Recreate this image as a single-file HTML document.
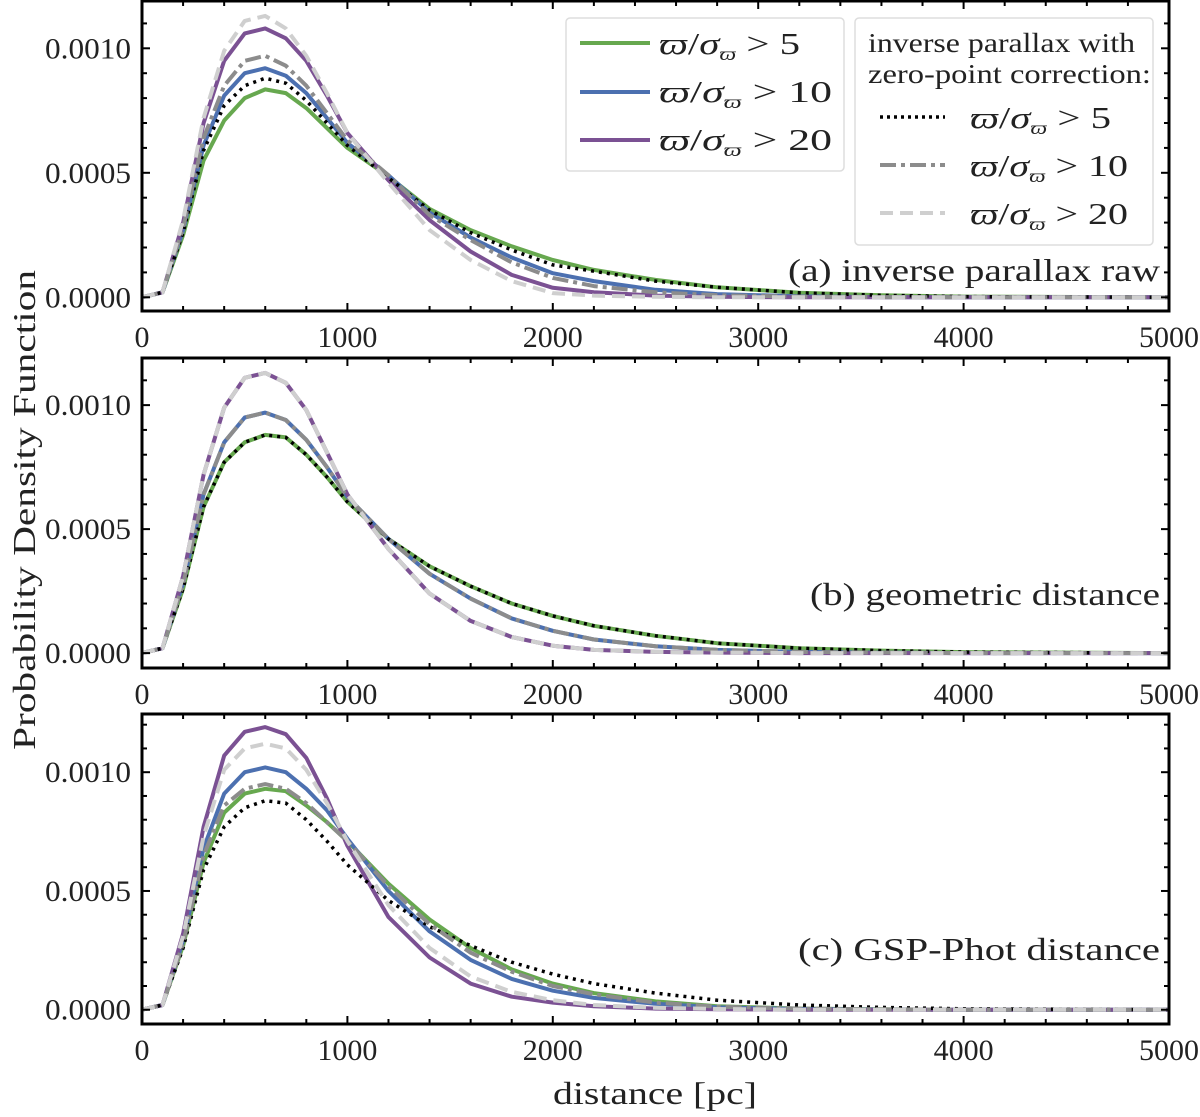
<!DOCTYPE html>
<html><head><meta charset="utf-8"><style>
body{margin:0;background:#fff}
svg{display:block}
text{font-family:"Liberation Serif",serif;fill:#222}
</style></head><body>
<svg id="chart" width="1200" height="1117" viewBox="0 0 1200 1117"></svg>
<script>
const distances=[0,100,200,300,400,500,600,700,800,900,1000,1200,1400,1600,1800,2000,2200,2500,2800,3200,3600,4000,5000];
// panel a (units 1e-4)
const greenA=[0,0.2,2.5,5.5,7.1,8.0,8.35,8.2,7.6,6.8,6.0,4.85,3.55,2.7,2.05,1.5,1.1,0.7,0.4,0.18,0.08,0.03,0];
const blueA=[0,0.2,2.7,6.1,8.1,9.0,9.2,8.9,8.2,7.2,6.2,4.9,3.4,2.4,1.6,0.97,0.65,0.3,0.13,0.04,0.01,0,0];
const purpleA=[0,0.2,3.0,7.0,9.5,10.6,10.8,10.4,9.5,8.1,6.6,4.7,3.1,1.84,0.9,0.38,0.2,0.07,0.02,0,0,0,0];
const blackA=[0,0.2,2.6,5.9,7.7,8.5,8.8,8.6,7.9,7.0,6.1,4.8,3.5,2.6,1.9,1.3,1.05,0.65,0.4,0.18,0.08,0.03,0];
const grayA=[0,0.2,2.8,6.4,8.5,9.5,9.7,9.3,8.5,7.4,6.3,4.9,3.3,2.3,1.4,0.78,0.45,0.2,0.08,0.03,0.01,0,0];
const lgrayA=[0,0.2,3.1,7.2,9.9,11.1,11.3,10.8,9.7,8.2,6.6,4.6,2.7,1.5,0.65,0.17,0.07,0.02,0,0,0,0,0];
// panel b
const greenB=[0,0.2,2.6,5.9,7.7,8.5,8.8,8.7,8.0,7.1,6.1,4.6,3.5,2.7,2.0,1.5,1.1,0.7,0.4,0.2,0.1,0.04,0];
const blueB=[0,0.2,2.8,6.4,8.5,9.5,9.7,9.4,8.6,7.5,6.3,4.6,3.2,2.2,1.4,0.9,0.55,0.28,0.13,0.05,0.02,0,0];
const purpleB=[0,0.2,3.1,7.2,9.9,11.1,11.3,10.9,9.8,8.1,6.4,4.2,2.4,1.3,0.65,0.3,0.13,0.05,0.02,0,0,0,0];
// panel c
const greenC=[0,0.2,2.7,6.2,8.3,9.1,9.3,9.2,8.6,7.9,7.1,5.3,3.8,2.6,1.7,1.1,0.7,0.35,0.15,0.05,0.02,0,0];
const blueC=[0,0.2,2.9,6.8,9.1,10.0,10.2,10.0,9.3,8.4,7.2,5.0,3.3,2.1,1.3,0.8,0.5,0.25,0.1,0.03,0.01,0,0];
const purpleC=[0,0.2,3.2,7.7,10.7,11.7,11.9,11.6,10.6,8.9,6.9,3.9,2.2,1.1,0.55,0.3,0.15,0.05,0.02,0,0,0,0];
const grayC=[0,0.2,2.8,6.5,8.6,9.3,9.5,9.3,8.7,7.9,7.1,5.2,3.6,2.4,1.6,1.0,0.65,0.3,0.13,0.05,0.02,0,0];
const lgrayC=[0,0.2,3.1,7.3,10.1,11.0,11.2,11.0,10.1,8.7,7.1,4.4,2.6,1.4,0.75,0.4,0.2,0.08,0.03,0,0,0,0];
const blackC=[0,0.2,2.6,5.9,7.7,8.5,8.8,8.7,8.0,7.1,6.1,4.6,3.5,2.7,2.0,1.5,1.1,0.7,0.4,0.2,0.1,0.04,0];
const xTicks=[0,1000,2000,3000,4000,5000];
const yTicks=[0,5,10];
const yTickLabels=["0.0000","0.0005","0.0010"];

const NS="http://www.w3.org/2000/svg";
const svg=document.getElementById('chart');
function el(tag,attrs,parent){const e=document.createElementNS(NS,tag);for(const k in attrs)e.setAttribute(k,attrs[k]);(parent||svg).appendChild(e);return e;}
const X0=142,X1=1169;
const xs=d=>X0+(d/5000)*(X1-X0);
const styles={
 green:{stroke:"#67a84f",w:4,dash:null},
 blue:{stroke:"#4c70b0",w:4,dash:null},
 purple:{stroke:"#7b5193",w:4,dash:null},
 black:{stroke:"#000",w:3.5,dash:"3 5"},
 gray:{stroke:"#8c8c8c",w:4,dash:"16 5 4 5"},
 lgray:{stroke:"#cfcfcf",w:4,dash:"13 7"}
};
const panels=[
 {id:"a",top:1,bot:311,ymin:-0.55,ymax:11.9,series:[["green",greenA],["blue",blueA],["purple",purpleA],["black",blackA],["gray",grayA],["lgray",lgrayA]],label:"(a) inverse parallax raw",ly:281,lw:372},
 {id:"b",top:358,bot:668,ymin:-0.6,ymax:11.9,series:[["green",greenB],["blue",blueB],["purple",purpleB],["black",greenB],["gray",blueB],["lgray",purpleB]],label:"(b) geometric distance",ly:605,lw:350},
 {id:"c",top:714,bot:1024,ymin:-0.6,ymax:12.45,series:[["green",greenC],["blue",blueC],["purple",purpleC],["black",blackC],["gray",grayC],["lgray",lgrayC]],label:"(c) GSP-Phot distance",ly:960,lw:362}
];
panels.forEach(p=>{
 const g=el('g',{});
 
 
 const ys=v=>p.bot-(v-p.ymin)/(p.ymax-p.ymin)*(p.bot-p.top);
 const clipId='clip'+p.id;
 const cp=el('clipPath',{id:clipId},g);el('rect',{x:X0,y:p.top,width:X1-X0,height:p.bot-p.top},cp);
 const lines=el('g',{'clip-path':'url(#'+clipId+')'},g);
 p.series.forEach(([k,vals])=>{
  const s=styles[k];
  const pts=distances.map((d,i)=>xs(d).toFixed(1)+","+ys(vals[i]).toFixed(1)).join(" ");
  const pl=el('polyline',{points:pts,fill:"none",stroke:s.stroke,'stroke-width':s.w,'stroke-linejoin':'round'},lines);
  if(s.dash)pl.setAttribute('stroke-dasharray',s.dash);
  
  
 });
 for(let d=0;d<=5000;d+=200){
  const major=d%1000===0,L=major?8:5,x=xs(d);
  el('line',{x1:x,x2:x,y1:p.bot,y2:p.bot-L,stroke:"#000",'stroke-width':2},g);
  el('line',{x1:x,x2:x,y1:p.top,y2:p.top+L,stroke:"#000",'stroke-width':2},g);
 }
 for(let v=0;v<=Math.floor(p.ymax);v+=1){
  const major=v%5===0,L=major?8:5,y=ys(v);
  el('line',{x1:X0,x2:X0+L,y1:y,y2:y,stroke:"#000",'stroke-width':2},g);
  el('line',{x1:X1,x2:X1-L,y1:y,y2:y,stroke:"#000",'stroke-width':2},g);
 }
 el('rect',{x:X0,y:p.top,width:X1-X0,height:p.bot-p.top,fill:"none",stroke:"#000",'stroke-width':3},g);
 xTicks.forEach(d=>{const t=el('text',{x:xs(d),y:p.bot+36,'text-anchor':'middle','font-size':30},g);t.textContent=d;
  
  });
 yTicks.forEach((v,i)=>{const t=el('text',{x:131,y:ys(v)+10,'text-anchor':'end','font-size':30,textLength:86,lengthAdjust:'spacingAndGlyphs'},g);t.textContent=yTickLabels[i];
  
  });
 const lt=el('text',{x:1160-p.lw,y:p.ly,'font-size':32,textLength:p.lw,lengthAdjust:'spacingAndGlyphs'},g);lt.textContent=p.label;
 
 
});
</script>
<svg width="1200" height="1117" style="position:absolute;left:0;top:0">
 <text x="35" y="510" font-size="32" text-anchor="middle" textLength="480" lengthAdjust="spacingAndGlyphs" transform="rotate(-90 35 510)">Probability Density Function</text>
 <text x="553" y="1104" font-size="32" textLength="204" lengthAdjust="spacingAndGlyphs">distance [pc]</text>
 <g>
  <rect x="566" y="18" width="278" height="153" rx="4" fill="#fff" stroke="#ddd" stroke-width="1.5"/>
  <line x1="580" x2="650" y1="43" y2="43" stroke="#67a84f" stroke-width="4"/>
  <line x1="580" x2="650" y1="92" y2="92" stroke="#4c70b0" stroke-width="4"/>
  <line x1="580" x2="650" y1="140" y2="140" stroke="#7b5193" stroke-width="4"/>
  <text x="659" y="54" font-size="31" textLength="141" lengthAdjust="spacingAndGlyphs"><tspan font-style="italic">ϖ</tspan>/<tspan font-style="italic">σ</tspan><tspan font-size="18" dy="6" font-style="italic">ϖ</tspan><tspan dy="-6"> &gt; 5</tspan></text>
  <text x="659" y="102" font-size="31" textLength="173" lengthAdjust="spacingAndGlyphs"><tspan font-style="italic">ϖ</tspan>/<tspan font-style="italic">σ</tspan><tspan font-size="18" dy="6" font-style="italic">ϖ</tspan><tspan dy="-6"> &gt; 10</tspan></text>
  <text x="659" y="150" font-size="31" textLength="173" lengthAdjust="spacingAndGlyphs"><tspan font-style="italic">ϖ</tspan>/<tspan font-style="italic">σ</tspan><tspan font-size="18" dy="6" font-style="italic">ϖ</tspan><tspan dy="-6"> &gt; 20</tspan></text>
 </g>
 <g>
  <rect x="855" y="18" width="298" height="227" rx="4" fill="#fff" stroke="#ddd" stroke-width="1.5"/>
  <text x="868" y="52" font-size="27" textLength="267" lengthAdjust="spacingAndGlyphs">inverse parallax with</text>
  <text x="868" y="83" font-size="27" textLength="283" lengthAdjust="spacingAndGlyphs">zero-point correction:</text>
  <line x1="880" x2="945" y1="117" y2="117" stroke="#000" stroke-width="3.5" stroke-dasharray="3 4"/>
  <line x1="880" x2="945" y1="165" y2="165" stroke="#8c8c8c" stroke-width="4" stroke-dasharray="16 5 4 5"/>
  <line x1="880" x2="945" y1="213" y2="213" stroke="#cfcfcf" stroke-width="4" stroke-dasharray="13 7"/>
  <text x="970" y="128" font-size="31" textLength="141" lengthAdjust="spacingAndGlyphs"><tspan font-style="italic">ϖ</tspan>/<tspan font-style="italic">σ</tspan><tspan font-size="18" dy="6" font-style="italic">ϖ</tspan><tspan dy="-6"> &gt; 5</tspan></text>
  <text x="970" y="176" font-size="31" textLength="158" lengthAdjust="spacingAndGlyphs"><tspan font-style="italic">ϖ</tspan>/<tspan font-style="italic">σ</tspan><tspan font-size="18" dy="6" font-style="italic">ϖ</tspan><tspan dy="-6"> &gt; 10</tspan></text>
  <text x="970" y="224" font-size="31" textLength="158" lengthAdjust="spacingAndGlyphs"><tspan font-style="italic">ϖ</tspan>/<tspan font-style="italic">σ</tspan><tspan font-size="18" dy="6" font-style="italic">ϖ</tspan><tspan dy="-6"> &gt; 20</tspan></text>
 </g>
</svg>
</body></html>
